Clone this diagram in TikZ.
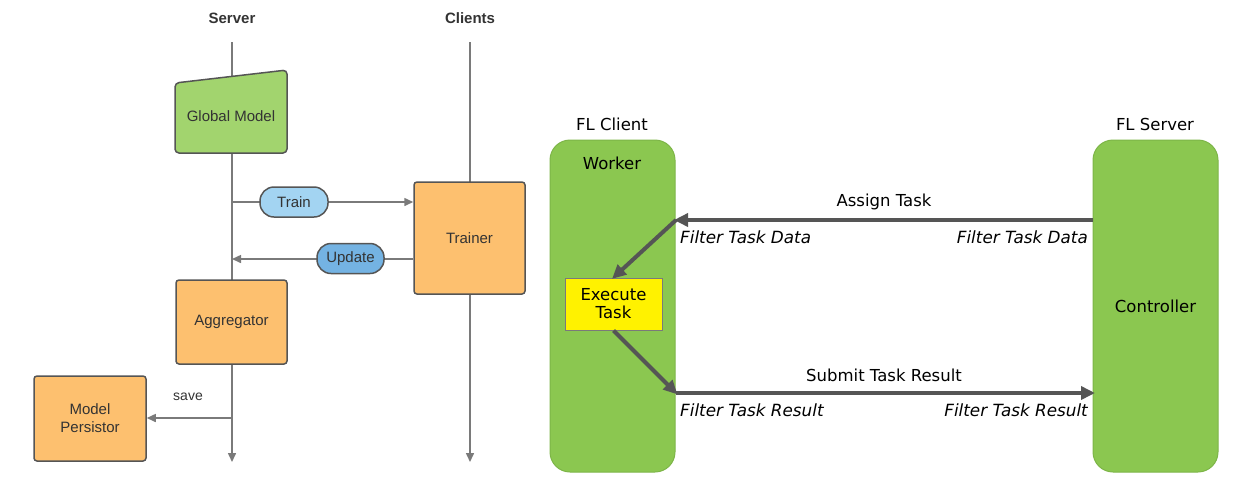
\documentclass[tikz,border=0pt]{standalone}
\usepackage{fontspec}
\setmainfont{Liberation Sans}
\newfontfamily\rfont{DejaVu Sans}
\usetikzlibrary{arrows.meta}
\definecolor{lgreen}{HTML}{A2D46E}
\definecolor{orng}{HTML}{FDC06F}
\definecolor{lblue}{HTML}{A3D4F2}
\definecolor{mblue}{HTML}{74B3E3}
\definecolor{bgreen}{HTML}{8BC750}
\definecolor{bgreenb}{HTML}{7DB548}
\definecolor{dk}{HTML}{555555}
\definecolor{lg}{HTML}{7A7A7A}
\definecolor{txt}{HTML}{333333}
\tikzset{
  lbox/.style={draw=dk, line width=1.5pt, fill=orng, rounded corners=3pt, align=center, text=txt, font=\fontsize{15}{17}\selectfont, inner sep=0pt},
  pill/.style={draw=dk, line width=1.5pt, rounded corners=14pt, text=txt, font=\fontsize{15}{17}\selectfont, minimum height=30pt, inner sep=0pt},
  lline/.style={draw=lg, line width=1.5pt},
  larrow/.style={lline, -{Triangle[length=9pt,width=8pt]}},
  hdr/.style={font=\bfseries\fontsize{15}{17}\selectfont, text=txt},
  gbox/.style={draw=bgreenb, line width=1pt, fill=bgreen, rounded corners=20pt},
  rtxt/.style={font=\rfont\fontsize{16.5}{19}\selectfont, text=black},
  itxt/.style={font=\rfont\itshape\fontsize{16.8}{19}\selectfont, text=black, inner sep=0pt},
  rarrow/.style={draw=dk, line width=4pt, -{Triangle[length=14pt,width=13pt]}, shorten >=-2pt},
}
\begin{document}
\begin{tikzpicture}[x=1pt,y=-1pt]
\useasboundingbox (0,0) rectangle (1238,483);
% ---------- left part ----------
\node[hdr] (srvh) at (232,18) {Server};
\node[hdr] (clih) at (470,18) {Clients};
\coordinate (srvTop) at (232,42);
\coordinate (srvBot) at (232,462);
\coordinate (cliTop) at (470,42);
\coordinate (cliBot) at (470,462);
\draw[larrow] (srvTop) -- (srvBot);
\draw[larrow] (cliTop) -- (cliBot);
% Global Model trapezoid
\draw[draw=dk, line width=1.5pt, fill=lgreen, rounded corners=4pt]
  (175,83) -- (287,70) -- (287,153) -- (175,153) -- cycle;
\node[text=txt, font=\fontsize{15}{17}\selectfont] (gm) at (231,116) {Global Model};
% Trainer
\node[lbox, minimum width=111pt, minimum height=112pt] (trainer) at (469.5,238) {Trainer};
% Aggregator
\node[lbox, minimum width=111pt, minimum height=84pt] (agg) at (231.5,322) {Aggregator};
% Model Persistor
\node[lbox, minimum width=112pt, minimum height=85pt] (mp) at (90,418.5) {Model\\[1pt]Persistor};
% Train / Update
\coordinate (trS) at (232,202);
\coordinate (upE) at (232,259);
\draw[larrow] (trS) -- (trS -| trainer.west);
\node[pill, fill=lblue, minimum width=68pt] (train) at (294,202) {Train};
\draw[larrow] (upE -| trainer.west) -- (upE);
\node[pill, fill=mblue, minimum width=67pt] (update) at (350.5,258.5) {Update};
% save
\coordinate (svS) at (232,418);
\draw[larrow] (svS) -- (svS -| mp.east);
\node[text=txt, font=\fontsize{14}{16}\selectfont] (save) at (188,397) {save};
% ---------- right part ----------
\node[rtxt] (flc) at (612,124) {FL Client};
\node[rtxt] (fls) at (1155,124) {FL Server};
\path[gbox] (550,140) rectangle (675,472);
\node[inner sep=0pt, minimum width=125pt, minimum height=332pt] (worker) at (612.5,306) {};
\path[gbox] (1093,140) rectangle (1218,472);
\node[rtxt, inner sep=0pt, minimum width=125pt, minimum height=332pt] (ctrl) at (1155.5,306) {Controller};
\node[rtxt] (wk) at (612,163) {Worker};
\node[draw=lg, line width=1pt, fill=yellow, minimum width=97pt, minimum height=52pt, inner sep=0pt, align=center, rtxt] (exec) at (613.5,304) {Execute\\[-1pt]Task};
\coordinate (aS) at (1093,220);
\coordinate (aE) at (676,220);
\coordinate (sS) at (676,393);
\coordinate (sE) at (1093,393);
\draw[rarrow] (aS) -- (aE);
\draw[rarrow] (aE) -- (exec.north);
\draw[rarrow] (exec.south) -- (sS);
\draw[rarrow] (sS) -- (sE);
\node[rtxt] (assign) at (884,202) {Assign Task};
\node[rtxt] (submit) at (884,375) {Submit Task Result};
\node[itxt, anchor=west] (fdl) at (680,237) {Filter Task Data};
\node[itxt, anchor=east] (fdr) at (1088,237) {Filter Task Data};
\node[itxt, anchor=west] (frl) at (680,410) {Filter Task Result};
\node[itxt, anchor=east] (frr) at (1088,410) {Filter Task Result};
\end{tikzpicture}
\end{document}
